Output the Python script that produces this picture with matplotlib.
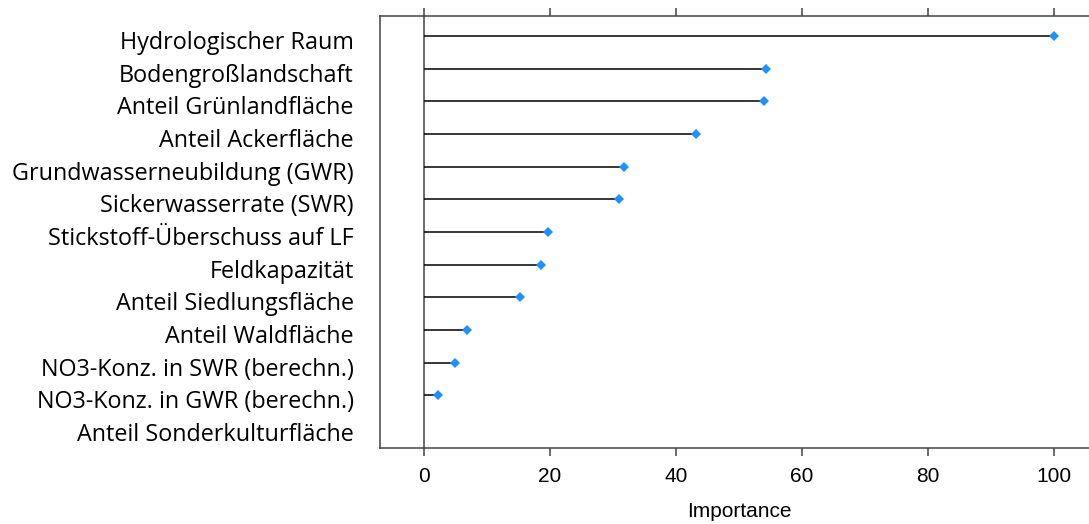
import numpy as np
import matplotlib.pyplot as plt
from matplotlib.transforms import ScaledTranslation

# variable importance values
variables = [
    "Hydrologischer Raum",
    "Bodengroßlandschaft",
    "Anteil Grünlandfläche",
    "Anteil Ackerfläche",
    "Grundwasserneubildung (GWR)",
    "Sickerwasserrate (SWR)",
    "Stickstoff-Überschuss auf LF",
    "Feldkapazität",
    "Anteil Siedlungsfläche",
    "Anteil Waldfläche",
    "NO3-Konz. in SWR (berechn.)",
    "NO3-Konz. in GWR (berechn.)",
    "Anteil Sonderkulturfläche",
]
# last variable shows no mark in the chart
importance = [100, 54.2, 54.0, 43.1, 31.7, 30.9, 19.7, 18.6, 15.2, 6.8, 4.9, 2.2, np.nan]
xticks = [0, 20, 40, 60, 80, 100]

fig = plt.figure(figsize=(10.89, 5.24), dpi=100)
ax = fig.add_axes([0.349, 0.145, 0.6593, 0.8245])

rows = np.arange(1, len(variables) + 1)
ax.axvline(0, color='#444444', linewidth=1.1, zorder=1)
ax.hlines(rows, 0, importance, color='black', linewidth=1.1, zorder=2)
ax.plot(importance, rows, linestyle='none', marker='D', markersize=5.5,
        color='#1E90FF', markeredgewidth=0, zorder=3)

ax.set_xlim(-7, 107)
ax.set_ylim(13.62, 0.38)

ax.set_xticks(xticks)
ax.set_xticklabels([str(t) for t in xticks], family='Liberation Sans', fontsize=15)
ax.tick_params(axis='x', which='both', direction='out', length=6, width=1.1,
               color='#444444', top=True, labeltop=False, pad=8)

ax.set_yticks(rows)
ax.set_yticklabels(variables, family='Open Sans', fontsize=16.8)
ax.tick_params(axis='y', length=0, pad=19)
offset = ScaledTranslation(0, -4 / 100, fig.dpi_scale_trans)
for lab in ax.get_yticklabels():
    lab.set_transform(lab.get_transform() + offset)

ax.set_xlabel("Importance", family='Liberation Sans', fontsize=15, labelpad=11)

for sp in ax.spines.values():
    sp.set_color('#444444')
    sp.set_linewidth(1.1)

fig.savefig("out.png", dpi=100)
